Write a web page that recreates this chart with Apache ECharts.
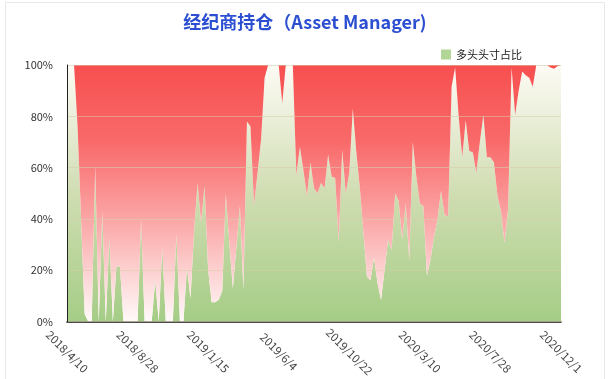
<!DOCTYPE html>
<html>
<head>
<meta charset="utf-8">
<script src="https://cdn.jsdelivr.net/npm/echarts@6/dist/echarts.min.js"></script>
<style>
html,body{margin:0;padding:0;background:#fff;}
#chart{width:610px;height:379px;}
</style>
</head>
<body>
<div id="chart"></div>
<script>
// Weekly categories (CFTC report dates), tick labels shown every 20 weeks
const startDate = '2018-04-10';
const weekCount = 141;
const tickLabels = ['2018/4/10','2018/8/28','2019/1/15','2019/6/4','2019/10/22','2020/3/10','2020/7/28','2020/12/1'];

// Long position share (%)
const longPct = [
  100,100,100,76,40,3,0,0,61,0,
  43,0,33,0,21.5,21.5,0,0,0,0,
  0,40,0,0,0,16,0,29,0,0,
  0,34,0,0,21,9,35,54,38.5,53,
  20,7.5,7.5,8.5,12,50,31,13,29,45,
  12.5,78,76,45,58,71,95,100,100,100,
  100,85,100,100,100,57,68,59,49,62,
  52,50,54,52,65,56.5,56,31,67,50,
  58,83,66,52,35,17.6,16,25,15,8.5,
  20,32,28,50,47,32,46,24,70,56.5,
  46,45,18,24,33,40,51,41.5,41,91.5,
  99,80,64,78.5,66.5,66,58,70,80.5,64,
  64,62,49,43,30.5,44,99,80.5,90,97.5,
  96,95,91.5,100,100,100,100,99,98.5,99.5,
  100
];
// Short share is the remainder to 100%
const shortPct = longPct.map(v => +(100 - v).toFixed(1));

const categories = [];
(function(){
  const d0 = new Date(startDate + 'T00:00:00Z');
  for (let i = 0; i < weekCount; i++) {
    const d = new Date(d0.getTime() + i * 7 * 86400000);
    categories.push(d.getUTCFullYear() + '/' + (d.getUTCMonth()+1) + '/' + d.getUTCDate());
  }
})();

const chart = echarts.init(document.getElementById('chart'));
const FONT = '"Noto Sans CJK SC", "Noto Sans", sans-serif';
const PLOT_TOP = 65, PLOT_BOTTOM = 322;

chart.setOption({
  animation: false,
  backgroundColor: '#ffffff',
  textStyle: { fontFamily: FONT },
  graphic: [{
    type: 'rect', silent: true, z: -10,
    shape: { x: 5.5, y: 2.5, width: 599, height: 390 },
    style: { fill: 'none', stroke: '#e8e8e8', lineWidth: 1 }
  }],
  title: {
    text: '经纪商持仓（Asset Manager)',
    left: 'center',
    top: 8,
    textStyle: { color: '#2c4fd2', fontSize: 18, fontWeight: 'bold', fontFamily: FONT }
  },
  legend: {
    data: [{ name: '多头头寸占比', icon: 'rect', itemStyle: { color: '#b3d597' } }],
    left: 436,
    top: 44,
    itemWidth: 10,
    itemHeight: 10,
    textStyle: { color: '#222', fontSize: 11, fontFamily: FONT }
  },
  grid: { left: 67, right: 49, top: PLOT_TOP, bottom: 379 - PLOT_BOTTOM, containLabel: false },
  xAxis: {
    type: 'category',
    data: categories,
    boundaryGap: false,
    axisLine: { show: true, lineStyle: { color: '#111', width: 1.5 } },
    axisTick: { show: false },
    axisLabel: {
      interval: 19,
      rotate: -45,
      align: 'center',
      verticalAlign: 'middle',
      margin: 30,
      color: '#444',
      fontSize: 11.5,
      fontFamily: FONT,
      formatter: function (v, idx) { return idx % 20 === 0 ? (tickLabels[idx / 20] || '') : ''; }
    },
    splitLine: { show: false }
  },
  yAxis: {
    type: 'value',
    min: 0, max: 100, interval: 20,
    z: 5,
    axisLine: { show: true, lineStyle: { color: '#222', width: 1 } },
    axisTick: { show: false },
    axisLabel: { formatter: '{value}%', color: '#333', fontSize: 11, margin: 14, fontFamily: FONT },
    splitLine: { show: true, lineStyle: { color: 'rgba(215,205,170,0.55)', width: 1 } }
  },
  series: [
    {
      name: '多头头寸占比',
      type: 'line',
      stack: 'total',
      data: longPct,
      symbol: 'none',
      lineStyle: { width: 0 },
      itemStyle: { color: '#b3d597' },
      areaStyle: {
        opacity: 1,
        color: { type: 'linear', x: 0, y: PLOT_TOP, x2: 0, y2: PLOT_BOTTOM, global: true,
          colorStops: [
            { offset: 0, color: '#fdfbf5' },
            { offset: 0.5, color: '#d0ddb2' },
            { offset: 1, color: '#a5cd86' }
          ] }
      }
    },
    {
      name: '空头头寸占比',
      type: 'line',
      stack: 'total',
      data: shortPct,
      symbol: 'none',
      lineStyle: { width: 0 },
      itemStyle: { color: '#f75a5a' },
      areaStyle: {
        opacity: 1,
        color: { type: 'linear', x: 0, y: PLOT_TOP, x2: 0, y2: PLOT_BOTTOM, global: true,
          colorStops: [
            { offset: 0, color: '#f74f4f' },
            { offset: 0.3, color: '#f96a6a' },
            { offset: 0.6, color: '#fba6a6' },
            { offset: 1, color: '#fffafa' }
          ] }
      }
    }
  ]
});
</script>
</body>
</html>
